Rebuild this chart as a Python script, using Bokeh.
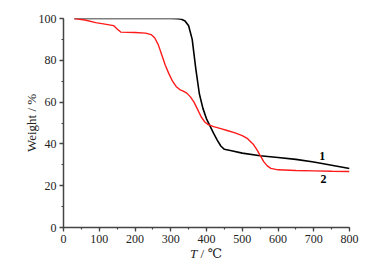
from bokeh.plotting import figure
from bokeh.models import Label, Range1d, SingleIntervalTicker, Div
from bokeh.layouts import column
from bokeh.embed import file_html
from bokeh.resources import INLINE

# Curve 1 (black)
t1 = [30, 100, 200, 300, 320, 330, 340, 350, 360, 370, 380, 390, 400, 410, 420,
      430, 440, 450, 470, 500, 550, 600, 650, 700, 750, 800]
w1 = [100, 100, 100, 100, 99.9, 99.6, 98.8, 96.5, 90, 76, 64, 57, 52, 48.5, 45,
      41.8, 39, 37.4, 36.7, 35.6, 34.3, 33.5, 32.6, 31.3, 29.8, 28.2]

# Curve 2 (red)
t2 = [30, 60, 90, 120, 140, 150, 160, 200, 230, 245, 255, 265, 275, 285, 295, 305,
      315, 325, 335, 345, 355, 365, 375, 385, 395, 405, 420, 440, 460, 480, 500,
      515, 530, 540, 550, 560, 570, 580, 600, 650, 700, 750, 800]
w2 = [100, 99.3, 98, 97.2, 96.6, 95, 93.5, 93.3, 93, 92.3, 90.8, 87.5, 82.5, 77.5,
      73.5, 70, 67.5, 66, 65.3, 64.3, 62.5, 60, 56.5, 53, 50.5, 49.2, 48.3, 47.3,
      46.3, 45.3, 44, 42.5, 40, 37.5, 34.5, 31.5, 29.5, 28.3, 27.6, 27.3, 27.1,
      26.9, 26.8]

series_labels = ["1", "2"]
label_pos_t = [724, 727]
label_pos_w = [34.4, 23.4]

FONT = "'Liberation Serif', 'DejaVu Serif', serif"

p = figure(width=375, height=247, output_backend="svg", toolbar_location=None,
           x_range=Range1d(0, 800), y_range=Range1d(0, 100),
           min_border_left=63, min_border_right=26, min_border_top=18,
           min_border_bottom=20)
p.outline_line_color = None
p.grid.visible = False
p.background_fill_color = "white"
p.border_fill_color = "white"

p.line(t1, w1, line_color="black", line_width=1.6)
p.line(t2, w2, line_color="#ff1a1a", line_width=1.4)

for ax in (p.xaxis[0], p.yaxis[0]):
    ax.axis_line_color = "#444444"
    ax.axis_line_width = 1.5
    ax.major_tick_line_color = "#444444"
    ax.minor_tick_line_color = "#444444"
    ax.major_tick_line_width = 1.3
    ax.minor_tick_line_width = 1.2
    ax.major_tick_out = 4
    ax.major_tick_in = 0
    ax.minor_tick_out = 2
    ax.minor_tick_in = 0
    ax.major_label_text_font = FONT
    ax.major_label_text_font_size = "12px"
    ax.major_label_text_color = "#222222"
    ax.major_label_standoff = 3
    ax.axis_label_text_font = FONT
    ax.axis_label_text_font_size = "13px"
    ax.axis_label_text_font_style = "normal"
    ax.axis_label_text_color = "#222222"

p.xaxis[0].ticker = SingleIntervalTicker(interval=100, num_minor_ticks=2)
p.yaxis[0].ticker = SingleIntervalTicker(interval=20, num_minor_ticks=2)
p.yaxis[0].axis_label = "Weight / %"
p.yaxis[0].axis_label_standoff = -3

for s, tx, wy in zip(series_labels, label_pos_t, label_pos_w):
    p.add_layout(Label(x=tx, y=wy, text=s, text_font=FONT, text_font_size="12px",
                       text_font_style="bold", text_align="center",
                       text_baseline="middle", text_color="black"))

xtitle = Div(text="<i>T</i> / ℃", width=286, height=16, margin=(-1, 0, 0, 63),
             styles={"font-family": FONT, "font-size": "13px", "color": "#222222",
                     "text-align": "center", "line-height": "16px"})

layout = column(p, xtitle, spacing=0)
open("out.html", "w").write(file_html(layout, INLINE))
